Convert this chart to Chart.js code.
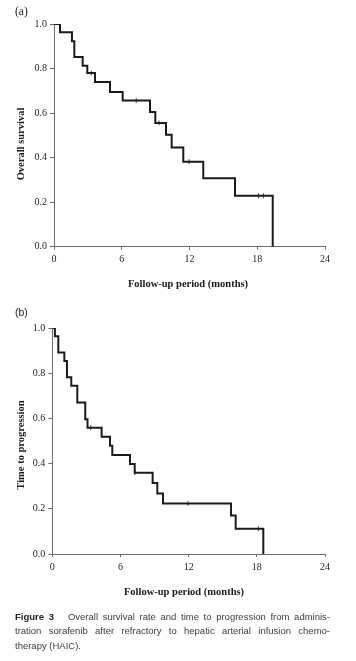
<!DOCTYPE html>
<html>
<head>
<meta charset="utf-8">
<script src="https://cdn.jsdelivr.net/npm/chart.js@4/dist/chart.umd.min.js"></script>
<style>
  html, body { margin:0; padding:0; background:#fff; }
  body { width:356px; height:661px; position:relative; overflow:hidden; }
  .wrap { position:absolute; left:0; width:356px; height:300px; }
  .lbl { position:absolute; white-space:nowrap; color:#1a1a1a; }
  .ytitle { position:absolute; font-family:"Liberation Serif", serif; font-weight:bold; font-size:10.5px;
            white-space:nowrap; transform:translate(-50%,-50%) rotate(-90deg); color:#1a1a1a; }
  .xtitle { position:absolute; font-family:"Liberation Serif", serif; font-weight:bold; font-size:10.5px;
            white-space:nowrap; transform:translate(-50%,-50%); color:#1a1a1a; }
  .cap { position:absolute; left:15px; width:315px; font-family:"Liberation Sans", Arial, sans-serif;
         font-size:9.5px; line-height:14.5px; color:#3a3a3a; }
  .j { text-align:justify; text-align-last:justify; }
</style>
</head>
<body>
<div class="wrap" style="top:0"><canvas id="ca" width="356" height="300"></canvas></div>
<div class="wrap" style="top:300px"><canvas id="cb" width="356" height="300"></canvas></div>

<div class="lbl" style="left:15px; top:5px; font-family:'Liberation Serif',serif; font-size:11.5px;">(a)</div>
<div class="lbl" style="left:15px; top:306px; font-family:'Liberation Sans',sans-serif; font-size:10.5px;">(b)</div>

<div class="ytitle" style="left:20px; top:143.5px;">Overall survival</div>
<div class="xtitle" style="left:188px; top:283px;">Follow-up period (months)</div>
<div class="ytitle" style="left:20px; top:445px;">Time to progression</div>
<div class="xtitle" style="left:184px; top:591px;">Follow-up period (months)</div>

<div class="cap j" style="top:609.5px;"><b style="color:#222">Figure 3</b>&nbsp;&nbsp; Overall survival rate and time to progression from adminis-</div>
<div class="cap j" style="top:624px;">tration sorafenib after refractory to hepatic arterial infusion chemo-</div>
<div class="cap" style="top:638.5px;">therapy (HAIC).</div>

<script>
// ---- Data ----
// (a) Overall survival: event times (months) and survival after each step
const osMonths   = [0, 0.53, 1.59, 1.80, 2.54, 2.95, 3.63, 4.96, 6.08, 8.50, 8.97, 9.92, 10.42, 11.45, 13.22, 16.03, 19.37];
const osSurvival = [1.0, 0.963, 0.922, 0.852, 0.813, 0.780, 0.740, 0.695, 0.656, 0.605, 0.556, 0.503, 0.445, 0.382, 0.307, 0.229, 0.0];
const osCensorMonths = [3.30, 7.28, 9.30, 11.96, 18.10, 18.54];
const osCensorValues = [0.780, 0.656, 0.556, 0.382, 0.229, 0.229];

// (b) Time to progression
const ttpMonths   = [0, 0.23, 0.53, 1.06, 1.29, 1.67, 2.20, 2.90, 3.10, 4.34, 5.08, 5.28, 6.84, 7.25, 8.83, 9.24, 9.74, 15.73, 16.14, 18.57];
const ttpFraction = [1.0, 0.963, 0.892, 0.854, 0.782, 0.745, 0.670, 0.596, 0.559, 0.519, 0.479, 0.438, 0.398, 0.360, 0.314, 0.268, 0.224, 0.170, 0.112, 0.0];
const ttpCensorMonths = [3.38, 7.28, 11.95, 18.13];
const ttpCensorValues = [0.559, 0.360, 0.224, 0.112];

const xTicks = [0, 6, 12, 18, 24];
const yTicks = [0.0, 0.2, 0.4, 0.6, 0.8, 1.0];

function pts(xs, ys) { return xs.map((x, i) => ({x: x, y: ys[i]})); }

function makeChart(id, xs, ys, cx, cy, pad, yW, xH) {
  const axisColor = '#6a6a6a';
  const tickFont = { family: "'Liberation Serif', 'Times New Roman', serif", size: 10 };
  return new Chart(document.getElementById(id), {
    type: 'line',
    data: {
      datasets: [
        { data: pts(xs, ys), stepped: true, borderColor: '#1a1a1a', borderWidth: 2,
          pointRadius: 0, fill: false, tension: 0 },
        { data: pts(cx, cy), showLine: false, pointStyle: 'line', rotation: 90,
          pointRadius: 2.5, borderColor: '#444', borderWidth: 1, backgroundColor: '#444' }
      ]
    },
    options: {
      responsive: false, animation: false, devicePixelRatio: 1,
      layout: { padding: pad },
      plugins: { legend: { display: false }, tooltip: { enabled: false } },
      scales: {
        x: {
          type: 'linear', min: xTicks[0], max: xTicks[xTicks.length - 1],
          afterBuildTicks: s => { s.ticks = xTicks.map(v => ({ value: v })); },
          afterFit: s => { s.height = xH; },
          border: { display: true, color: axisColor, width: 1 },
          grid: { drawOnChartArea: false, drawTicks: true, tickLength: 3, color: axisColor },
          ticks: { font: tickFont, color: '#222', padding: 4, maxRotation: 0,
                   callback: v => String(v) }
        },
        y: {
          type: 'linear', min: yTicks[0], max: yTicks[yTicks.length - 1],
          afterBuildTicks: s => { s.ticks = yTicks.map(v => ({ value: v })); },
          afterFit: s => { s.width = yW; },
          border: { display: true, color: axisColor, width: 1 },
          grid: { drawOnChartArea: false, drawTicks: true, tickLength: 4, color: axisColor },
          ticks: { font: tickFont, color: '#222', padding: 3,
                   callback: v => Number(v).toFixed(1) }
        }
      }
    }
  });
}

makeChart('ca', osMonths, osSurvival, osCensorMonths, osCensorValues,
          { top: 24, right: 31, left: 0, bottom: 0 }, 54, 53.3);
makeChart('cb', ttpMonths, ttpFraction, ttpCensorMonths, ttpCensorValues,
          { top: 28, right: 31, left: 0, bottom: 0 }, 52.3, 46);
</script>
</body>
</html>
